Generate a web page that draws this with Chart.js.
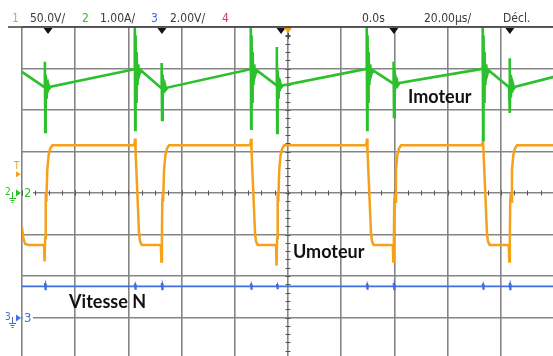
<!DOCTYPE html>
<html>
<head>
<meta charset="utf-8">
<script src="https://cdn.jsdelivr.net/npm/chart.js@4.4.1/dist/chart.umd.min.js"></script>
<style>
  html, body { margin: 0; padding: 0; background: #fff; overflow: hidden; width: 553px; height: 356px; }
  canvas { display: block; }
</style>
</head>
<body>
<canvas id="scope" width="560" height="364"></canvas>
<script>
// time in microseconds (20 us/div, trigger at 0)
// channel 2 : motor current (A), 1.00 A/div
const imoteur = [
  [-100, 2.92], [-91.6, 2.55],
  [-91.4, 3.16], [-91.25, 1.47], [-91.1, 2.85], [-90.9, 2.3], [-90.7, 2.72], [-90.4, 2.42], [-90.1, 2.62], [-89.7, 2.52], [-89.2, 2.56],
  [-57.8, 2.98],
  [-57.6, 4.1], [-57.45, 1.52], [-57.3, 3.8], [-57.1, 2.2], [-56.9, 3.4], [-56.6, 2.6], [-56.3, 3.1], [-55.9, 2.85], [-55.4, 2.96],
  [-47.7, 2.53],
  [-47.5, 3.13], [-47.35, 1.76], [-47.2, 2.85], [-47.0, 2.3], [-46.8, 2.7], [-46.5, 2.42], [-46.2, 2.6], [-45.8, 2.5], [-45.3, 2.54],
  [-14.2, 2.98],
  [-14.0, 4.1], [-13.85, 1.55], [-13.7, 3.8], [-13.5, 2.2], [-13.3, 3.4], [-13.0, 2.6], [-12.7, 3.1], [-12.3, 2.85], [-11.8, 2.96],
  [-4.4, 2.6],
  [-4.2, 3.52], [-4.05, 1.45], [-3.9, 2.95], [-3.7, 2.3], [-3.5, 2.78], [-3.2, 2.45], [-2.9, 2.65], [-2.5, 2.55], [-2.0, 2.59],
  [29.4, 2.99],
  [29.6, 4.1], [29.75, 1.52], [29.9, 3.8], [30.1, 2.2], [30.3, 3.4], [30.6, 2.6], [30.9, 3.1], [31.3, 2.85], [31.8, 2.96],
  [39.5, 2.64],
  [39.7, 3.16], [39.85, 1.83], [40.0, 2.95], [40.2, 2.4], [40.4, 2.8], [40.7, 2.52], [41.0, 2.7], [41.4, 2.6], [41.9, 2.65],
  [73.0, 2.99],
  [73.2, 4.1], [73.35, 1.28], [73.5, 3.8], [73.7, 2.2], [73.9, 3.4], [74.2, 2.6], [74.5, 3.1], [74.9, 2.85], [75.4, 2.96],
  [83.1, 2.55],
  [83.3, 3.25], [83.45, 1.93], [83.6, 2.85], [83.8, 2.3], [84.0, 2.72], [84.3, 2.42], [84.6, 2.62], [85.0, 2.52], [85.5, 2.56],
  [100, 2.8]
];

// channel 1 : motor voltage (V), 50.0 V/div
const umoteur = [
  [-100, 21], [-99.5, 8], [-98.8, 1], [-97.5, 0],
  [-91.7, 0], [-91.5, -20], [-91.3, 8], [-91.15, 55], [-91.0, 62], [-90.85, 52], [-90.5, 90], [-90.0, 108], [-89.4, 116], [-88.6, 120],
  [-58.0, 120], [-57.7, 122], [-57.5, 128], [-57.3, 112], [-56.6, 60], [-56.0, 14], [-55.6, 4], [-55.0, 0],
  [-47.8, 0], [-47.6, -20], [-47.4, 8], [-47.25, 55], [-47.1, 62], [-46.95, 52], [-46.6, 90], [-46.1, 108], [-45.5, 116], [-44.7, 120],
  [-14.4, 120], [-14.1, 122], [-13.9, 128], [-13.7, 112], [-13.0, 60], [-12.4, 14], [-12.0, 4], [-11.4, 0],
  [-4.5, 0], [-4.3, -25], [-4.1, 8], [-3.95, 55], [-3.8, 62], [-3.65, 52], [-3.3, 90], [-2.8, 108], [-2.2, 116], [-1.4, 120],
  [29.2, 120], [29.5, 122], [29.7, 128], [29.9, 112], [30.6, 60], [31.2, 14], [31.6, 4], [32.2, 0],
  [39.4, 0], [39.6, -20], [39.8, 8], [39.95, 55], [40.1, 62], [40.25, 52], [40.6, 90], [41.1, 108], [41.7, 116], [42.5, 120],
  [72.8, 120], [73.1, 122], [73.3, 128], [73.5, 112], [74.2, 60], [74.8, 14], [75.2, 4], [75.8, 0],
  [83.0, 0], [83.2, -20], [83.4, 8], [83.55, 55], [83.7, 62], [83.85, 52], [84.2, 90], [84.7, 108], [85.3, 116], [86.1, 120],
  [100, 120]
];

// channel 3 : speed (V), 2.00 V/div
const vitesse = [
  [-100, 1.5],
  [-91.6, 1.5], [-91.4, 1.66], [-91.2, 1.36], [-91.0, 1.58], [-90.8, 1.5],
  [-57.8, 1.5], [-57.6, 1.64], [-57.4, 1.38], [-57.2, 1.56], [-57.0, 1.5],
  [-47.7, 1.5], [-47.5, 1.66], [-47.3, 1.36], [-47.1, 1.58], [-46.9, 1.5],
  [-14.2, 1.5], [-14.0, 1.64], [-13.8, 1.38], [-13.6, 1.56], [-13.4, 1.5],
  [-4.4, 1.5], [-4.2, 1.62], [-4.0, 1.4], [-3.8, 1.55], [-3.6, 1.5],
  [29.4, 1.5], [29.6, 1.64], [29.8, 1.38], [30.0, 1.56], [30.2, 1.5],
  [39.5, 1.5], [39.7, 1.66], [39.9, 1.36], [40.1, 1.58], [40.3, 1.5],
  [73.0, 1.5], [73.2, 1.64], [73.4, 1.38], [73.6, 1.56], [73.8, 1.5],
  [83.1, 1.5], [83.3, 1.66], [83.5, 1.36], [83.7, 1.58], [83.9, 1.5],
  [100, 1.5]
];

// black cursor marks along the top edge
const markerTimes = [-90.2, -47.4, -2.6, 39.8, 83.4];

// volts (or amps) per division and ground offset in divisions
const ch1 = { perDiv: 50, offset: -1.25, color: "#f6a11a" };
const ch2 = { perDiv: 1, offset: 0, color: "#2cc02c" };
const ch3 = { perDiv: 2, offset: -3, color: "#3f6ee0" };

const triggerLevel = 85; // V on channel 1

function toDiv(trace, ch) {
  return trace.map(([t, v]) => ({ x: t, y: v / ch.perDiv + ch.offset }));
}

const labelFont = "bold 18px Lato, 'Open Sans', sans-serif";
const headFont = "12px 'DejaVu Sans Condensed', 'Liberation Sans Narrow', sans-serif";

const scopeOverlay = {
  id: "scopeOverlay",
  beforeDatasetsDraw(chart) {
    const { ctx, scales } = chart;
    const xs = scales.x, ys = scales.y;
    const cx = Math.round(xs.getPixelForValue(0));
    const cy = Math.round(ys.getPixelForValue(0));
    ctx.save();
    ctx.strokeStyle = "#555";
    ctx.lineWidth = 1;
    ctx.beginPath();
    for (let t = -100; t <= 100; t += 5) {
      const px = Math.round(xs.getPixelForValue(t)) + 0.5;
      ctx.moveTo(px, cy - 2.5);
      ctx.lineTo(px, cy + 2.5);
    }
    for (let d = -20; d <= 20; d++) {
      const py = Math.round(ys.getPixelForValue(d / 5)) + 0.5;
      ctx.moveTo(cx - 2.5, py);
      ctx.lineTo(cx + 2.5, py);
    }
    ctx.stroke();
    ctx.restore();
  },
  afterDraw(chart) {
    const { ctx, chartArea, scales } = chart;
    const xs = scales.x, ys = scales.y;
    ctx.save();

    // header separator
    ctx.strokeStyle = "#3c3c3c";
    ctx.lineWidth = 1.5;
    ctx.beginPath();
    ctx.moveTo(8, chartArea.top);
    ctx.lineTo(chartArea.right, chartArea.top);
    ctx.stroke();

    // header text
    ctx.font = headFont;
    ctx.textBaseline = "alphabetic";
    const head = [
      ["1", 12, ch1.color], ["50.0V/", 30, "#3a3a3a"],
      ["2", 82, ch2.color], ["1.00A/", 100, "#3a3a3a"],
      ["3", 151, ch3.color], ["2.00V/", 170, "#3a3a3a"],
      ["4", 222, "#e0307f"],
      ["0.0s", 362, "#3a3a3a"], ["20.00µs/", 424, "#3a3a3a"], ["Décl.", 503, "#3a3a3a"]
    ];
    head.forEach(([s, x, c]) => { ctx.fillStyle = c; ctx.fillText(s, x, 22); });

    // top cursor marks
    ctx.fillStyle = "#111";
    markerTimes.forEach(t => {
      const px = xs.getPixelForValue(t);
      ctx.beginPath();
      ctx.moveTo(px - 4.5, chartArea.top + 1);
      ctx.lineTo(px + 4.5, chartArea.top + 1);
      ctx.lineTo(px, chartArea.top + 7);
      ctx.closePath();
      ctx.fill();
    });
    // trigger position
    const tx = xs.getPixelForValue(0);
    ctx.fillStyle = ch1.color;
    ctx.beginPath();
    ctx.moveTo(tx - 4, chartArea.top + 1);
    ctx.lineTo(tx + 4, chartArea.top + 1);
    ctx.lineTo(tx, chartArea.top + 6);
    ctx.closePath();
    ctx.fill();
    ctx.strokeStyle = "#444";
    ctx.lineWidth = 1;
    ctx.beginPath();
    ctx.moveTo(Math.round(tx) + 0.5, chartArea.top + 6);
    ctx.lineTo(Math.round(tx) + 0.5, chartArea.top + 12);
    ctx.moveTo(tx - 2.5, chartArea.top + 9.5);
    ctx.lineTo(tx + 2.5, chartArea.top + 9.5);
    ctx.stroke();

    // trigger level mark
    const ty = ys.getPixelForValue(triggerLevel / ch1.perDiv + ch1.offset);
    ctx.fillStyle = ch1.color;
    ctx.font = "10px 'DejaVu Sans Condensed', sans-serif";
    ctx.fillText("T", 14, ty - 5);
    ctx.beginPath();
    ctx.moveTo(16, ty - 3);
    ctx.lineTo(21, ty);
    ctx.lineTo(16, ty + 3);
    ctx.closePath();
    ctx.fill();

    // channel ground marks
    [["2", ch2], ["3", ch3]].forEach(([n, ch]) => {
      const gy = Math.round(ys.getPixelForValue(ch.offset));
      ctx.fillStyle = "#fff";
      ctx.fillRect(chartArea.left + 1, gy - 6, 10, 12);
      ctx.fillStyle = ch.color;
      ctx.strokeStyle = ch.color;
      ctx.font = "10px 'DejaVu Sans Condensed', sans-serif";
      ctx.fillText(n, 5, gy + 2);
      ctx.lineWidth = 1;
      ctx.beginPath();
      ctx.moveTo(12.5, gy - 1);
      ctx.lineTo(12.5, gy + 5);
      ctx.moveTo(9, gy + 5.5); ctx.lineTo(16, gy + 5.5);
      ctx.moveTo(10.5, gy + 7.5); ctx.lineTo(14.5, gy + 7.5);
      ctx.moveTo(11.5, gy + 9.5); ctx.lineTo(13.5, gy + 9.5);
      ctx.stroke();
      ctx.beginPath();
      ctx.moveTo(16, gy - 3.5);
      ctx.lineTo(21, gy);
      ctx.lineTo(16, gy + 3.5);
      ctx.closePath();
      ctx.fill();
      ctx.font = "13px 'DejaVu Sans Condensed', sans-serif";
      ctx.textBaseline = "middle";
      ctx.fillText(n, 24, gy + 0.5);
      ctx.textBaseline = "alphabetic";
    });

    // trace names
    ctx.fillStyle = "#111";
    ctx.font = labelFont;
    ctx.textBaseline = "middle";
    const names = [["Imoteur", 45.1, 2.31], ["Umoteur", 1.9, -1.42], ["Vitesse N", -82.3, -2.62]];
    names.forEach(([s, t, d]) => ctx.fillText(s, xs.getPixelForValue(t), ys.getPixelForValue(d)));

    ctx.restore();
  }
};

const lineStyle = { pointRadius: 0, tension: 0, fill: false };

new Chart(document.getElementById("scope"), {
  type: "line",
  data: {
    datasets: [
      { label: "Imoteur", data: toDiv(imoteur, ch2), borderColor: ch2.color, borderWidth: 2.6, ...lineStyle },
      { label: "Umoteur", data: toDiv(umoteur, ch1), borderColor: ch1.color, borderWidth: 2.5, ...lineStyle },
      { label: "Vitesse N", data: toDiv(vitesse, ch3), borderColor: ch3.color, borderWidth: 1.8, ...lineStyle }
    ]
  },
  options: {
    responsive: false,
    animation: false,
    devicePixelRatio: 1,
    layout: { padding: { left: 22, right: 6, top: 27, bottom: 5 } },
    plugins: { legend: { display: false }, tooltip: { enabled: false } },
    scales: {
      x: {
        type: "linear", min: -100, max: 100,
        ticks: { display: false, stepSize: 20 },
        grid: { color: "#858585", lineWidth: 1.6, drawTicks: false },
        border: { display: false },
        afterFit: s => { s.height = 0; }
      },
      y: {
        type: "linear", min: -4, max: 4,
        ticks: { display: false, stepSize: 1 },
        grid: { color: "#858585", lineWidth: 1.6, drawTicks: false },
        border: { display: false },
        afterFit: s => { s.width = 0; }
      }
    }
  },
  plugins: [scopeOverlay]
});
</script>
</body>
</html>
